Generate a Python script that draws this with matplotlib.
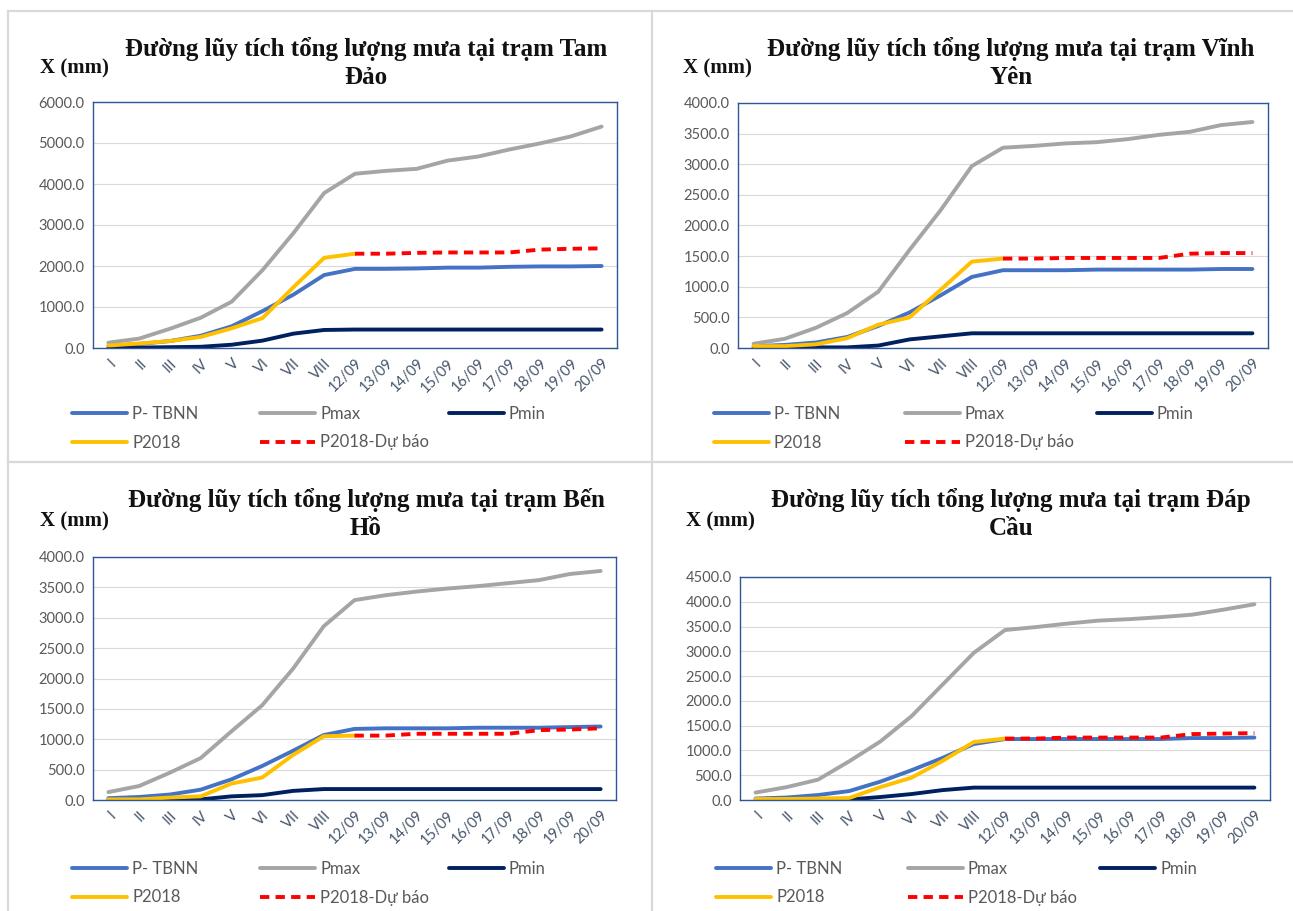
import matplotlib
matplotlib.use('Agg')
import matplotlib.pyplot as plt
from matplotlib.lines import Line2D

W, H = 1293, 911

cats = ['I', 'II', 'III', 'IV', 'V', 'VI', 'VII', 'VIII',
        '12/09', '13/09', '14/09', '15/09', '16/09', '17/09', '18/09', '19/09', '20/09']
fc_start = 8  # forecast begins at 12/09

# Tam Đảo
td_tbnn = [50, 100, 170, 300, 530, 900, 1300, 1780, 1930, 1930, 1940, 1960, 1960, 1980, 1990, 1990, 2000]
td_max = [130, 230, 470, 740, 1130, 1900, 2800, 3780, 4250, 4320, 4370, 4570, 4670, 4840, 4990, 5160, 5400]
td_min = [0, 10, 20, 30, 80, 180, 350, 440, 450, 450, 450, 450, 450, 450, 450, 450, 450]
td_2018 = [60, 110, 170, 270, 480, 730, 1480, 2200, 2300]
td_fc = [2300, 2300, 2320, 2330, 2330, 2330, 2400, 2420, 2430]

# Vĩnh Yên
vy_tbnn = [30, 50, 90, 180, 360, 580, 860, 1160, 1270, 1270, 1270, 1280, 1280, 1280, 1280, 1290, 1290]
vy_max = [70, 150, 330, 570, 920, 1600, 2250, 2970, 3270, 3300, 3340, 3360, 3410, 3480, 3530, 3640, 3690]
vy_min = [0, 0, 10, 10, 40, 140, 190, 240, 240, 240, 240, 240, 240, 240, 240, 240, 240]
vy_2018 = [30, 30, 60, 160, 380, 500, 950, 1410, 1460]
vy_fc = [1460, 1460, 1470, 1470, 1470, 1470, 1540, 1550, 1550]

# Bến Hồ
bh_tbnn = [30, 50, 90, 170, 340, 560, 810, 1070, 1170, 1180, 1180, 1180, 1190, 1190, 1190, 1200, 1210]
bh_max = [130, 230, 450, 690, 1130, 1560, 2160, 2860, 3290, 3370, 3430, 3480, 3520, 3570, 3620, 3720, 3770]
bh_min = [0, 0, 10, 10, 60, 80, 150, 180, 180, 180, 180, 180, 180, 180, 180, 180, 180]
bh_2018 = [10, 10, 40, 60, 270, 370, 740, 1050, 1060]
bh_fc = [1060, 1060, 1090, 1090, 1090, 1090, 1150, 1160, 1180]

# Đáp Cầu
dc_tbnn = [30, 50, 100, 180, 370, 600, 850, 1130, 1230, 1230, 1230, 1230, 1230, 1230, 1250, 1250, 1260]
dc_max = [150, 260, 410, 780, 1180, 1690, 2330, 2970, 3430, 3490, 3560, 3620, 3650, 3690, 3740, 3840, 3950]
dc_min = [0, 0, 10, 10, 60, 120, 200, 250, 250, 250, 250, 250, 250, 250, 250, 250, 250]
dc_2018 = [20, 20, 30, 40, 260, 450, 790, 1170, 1240]
dc_fc = [1240, 1240, 1260, 1260, 1260, 1260, 1330, 1340, 1350]

labels = ['P- TBNN', 'Pmax', 'Pmin', 'P2018', 'P2018-Dự báo']
c_tbnn, c_max, c_min, c_2018, c_fc = '#4472C4', '#A5A5A5', '#002060', '#FFC000', '#FF0000'

sans = ['Lato', 'Noto Sans', 'DejaVu Sans']
serif = ['Liberation Serif', 'DejaVu Serif']
tick_col = '#595959'

panels = [
    dict(title='Đường lũy tích tổng lượng mưa tại trạm Tam\nĐảo', data=(td_tbnn, td_max, td_min, td_2018, td_fc),
         box=(93, 102, 617, 348), ymax=6000, step=1000, tx=366, ty=63, xl=40, xly=68, leg=(72, 260, 449), legy=406),
    dict(title='Đường lũy tích tổng lượng mưa tại trạm Vĩnh\nYên', data=(vy_tbnn, vy_max, vy_min, vy_2018, vy_fc),
         box=(738, 103, 1268, 348), ymax=4000, step=500, tx=1011, ty=63, xl=683, xly=68, leg=(714, 905, 1097), legy=406),
    dict(title='Đường lũy tích tổng lượng mưa tại trạm Bến\nHồ', data=(bh_tbnn, bh_max, bh_min, bh_2018, bh_fc),
         box=(93, 557, 616, 800), ymax=4000, step=500, tx=366, ty=514, xl=40, xly=521, leg=(72, 260, 449), legy=861),
    dict(title='Đường lũy tích tổng lượng mưa tại trạm Đáp\nCầu', data=(dc_tbnn, dc_max, dc_min, dc_2018, dc_fc),
         box=(740, 577, 1270, 800), ymax=4500, step=500, tx=1011, ty=514, xl=686, xly=521, leg=(716, 908, 1100), legy=861),
]

fig = plt.figure(figsize=(W / 100, H / 100), dpi=100)

# panel frames
frame = dict(color='#D9D9D9', lw=1.6, transform=fig.transFigure)
for x0, y0, x1, y1 in [(8, 11, 1293, 11), (8, 11, 8, 911), (652, 11, 652, 911), (8, 462, 1293, 462)]:
    fig.add_artist(Line2D([x0 / W, x1 / W], [1 - y0 / H, 1 - y1 / H], **frame))

x = list(range(len(cats)))
for p in panels:
    l, t, r, b = p['box']
    ax = fig.add_axes([l / W, 1 - b / H, (r - l) / W, (b - t) / H])
    tbnn, pmax, pmin, p2018, pfc = p['data']
    h1, = ax.plot(x, tbnn, color=c_tbnn, lw=2.8, solid_capstyle='round')
    h2, = ax.plot(x, pmax, color=c_max, lw=2.8, solid_capstyle='round')
    h3, = ax.plot(x, pmin, color=c_min, lw=2.8, solid_capstyle='round')
    h4, = ax.plot(x[:len(p2018)], p2018, color=c_2018, lw=2.8, solid_capstyle='round')
    h5, = ax.plot(x[fc_start:], pfc, color=c_fc, lw=2.8, linestyle=(0, (2.4, 1.6)))

    ax.set_xlim(-0.5, len(cats) - 0.5)
    ax.set_ylim(0, p['ymax'])
    ax.set_yticks(range(0, p['ymax'] + 1, p['step']))
    ax.set_yticklabels([f'{v:.1f}' for v in range(0, p['ymax'] + 1, p['step'])],
                       family=sans, fontsize=10.5, color=tick_col)
    ax.set_xticks(x)
    ax.set_xticklabels(cats, rotation=45, ha='right', rotation_mode='anchor',
                       family=sans, fontsize=10.5, color='#44546A')
    ax.tick_params(length=0, pad=6)
    ax.grid(axis='y', color='#D9D9D9', lw=0.8)
    ax.set_axisbelow(True)
    for s in ax.spines.values():
        s.set_color('#2F5597')
        s.set_linewidth(1)

    fig.text(p['tx'] / W, 1 - p['ty'] / H, p['title'], ha='center', va='center',
             family=serif, fontweight='bold', fontsize=18, linespacing=1.3, color='#111111')
    fig.text(p['xl'] / W, 1 - p['xly'] / H, 'X (mm)', ha='left', va='center',
             family=serif, fontweight='bold', fontsize=15, color='#111111')

    cols = [([h1, h4], [labels[0], labels[3]]), ([h2, h5], [labels[1], labels[4]]), ([h3], [labels[2]])]
    for cx, (hs, ls) in zip(p['leg'], cols):
        fig.legend(hs, ls, loc='upper left', bbox_to_anchor=(cx / W, 1 - p['legy'] / H),
                   frameon=False, handlelength=3.3, handletextpad=0.3, borderpad=0, borderaxespad=0,
                   labelspacing=0.75, prop=dict(family=sans, size=12), labelcolor=tick_col)

fig.savefig('out.png', dpi=100, facecolor='white')
